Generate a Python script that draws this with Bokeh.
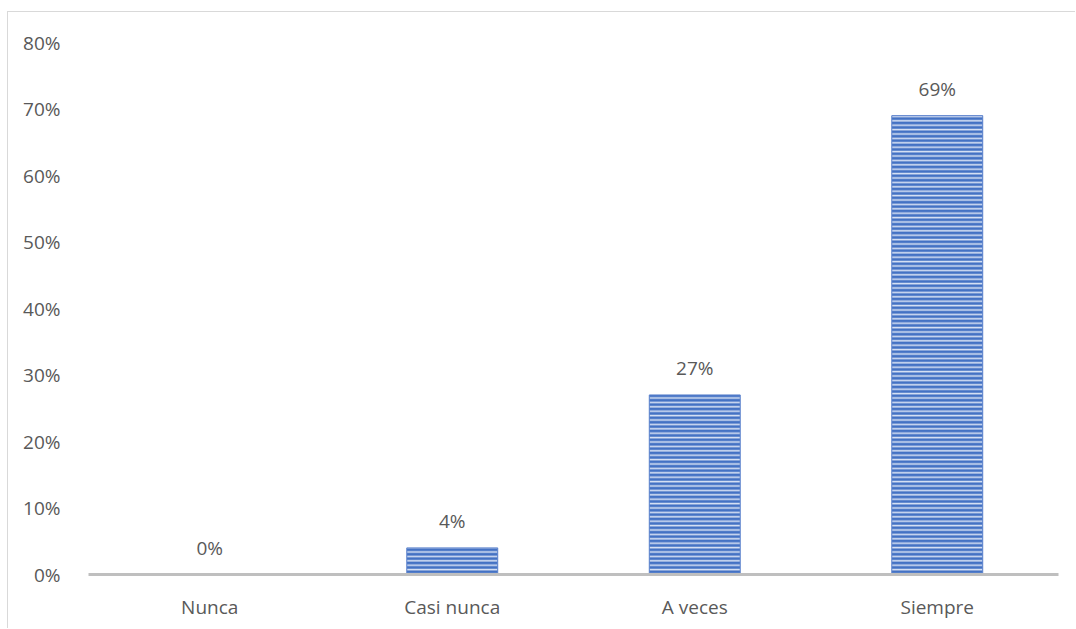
from bokeh.plotting import figure
from bokeh.models import ColumnDataSource, Range1d, NumeralTickFormatter, FixedTicker, LabelSet
from bokeh.core.properties import value
from bokeh.embed import file_html
from bokeh.resources import INLINE

categories = ["Nunca", "Casi nunca", "A veces", "Siempre"]
values = [0.0, 0.04, 0.27, 0.69]
labels = ["0%", "4%", "27%", "69%"]

FONT = "Open Sans"
TXT = "#595959"

src = ColumnDataSource(dict(cat=categories, val=values, lab=labels))

p = figure(x_range=categories, y_range=Range1d(0, 0.8), width=1068, height=617,
           output_backend="svg", toolbar_location=None,
           min_border_left=80, min_border_right=18, min_border_top=30, min_border_bottom=55)
p.styles = {"border-left": "1px solid #D9D9D9", "border-top": "1px solid #D9D9D9",
            "margin-left": "7px", "margin-top": "11px"}
p.outline_line_color = None
p.xgrid.grid_line_color = None
p.ygrid.grid_line_color = None

p.vbar(x="cat", top="val", width=0.375, source=src,
       fill_color="#4472C4", line_color="#5B82CC", line_width=1,
       hatch_pattern="horizontal_line", hatch_color="#D6E0F3",
       hatch_scale=4.4, hatch_weight=1.6)

lbl = LabelSet(x="cat", y="val", text="lab", source=src, text_align="center",
               text_baseline="bottom", y_offset=14, text_font=value(FONT),
               text_font_size="19px", text_color=TXT)
p.add_layout(lbl)

ya = p.yaxis[0]
ya.ticker = FixedTicker(ticks=[0, 0.1, 0.2, 0.3, 0.4, 0.5, 0.6, 0.7, 0.8])
ya.formatter = NumeralTickFormatter(format="0%")
ya.axis_line_color = None
ya.major_tick_line_color = None
ya.minor_tick_line_color = None
ya.major_label_standoff = 22
ya.major_label_text_font = FONT
ya.major_label_text_font_size = "19px"
ya.major_label_text_color = TXT

xa = p.xaxis[0]
xa.axis_line_color = "#BFBFBF"
xa.axis_line_width = 3
xa.major_tick_line_color = None
xa.minor_tick_line_color = None
xa.major_label_standoff = 13
xa.major_label_text_font = FONT
xa.major_label_text_font_size = "19px"
xa.major_label_text_color = TXT

open("out.html", "w").write(file_html(p, INLINE))
